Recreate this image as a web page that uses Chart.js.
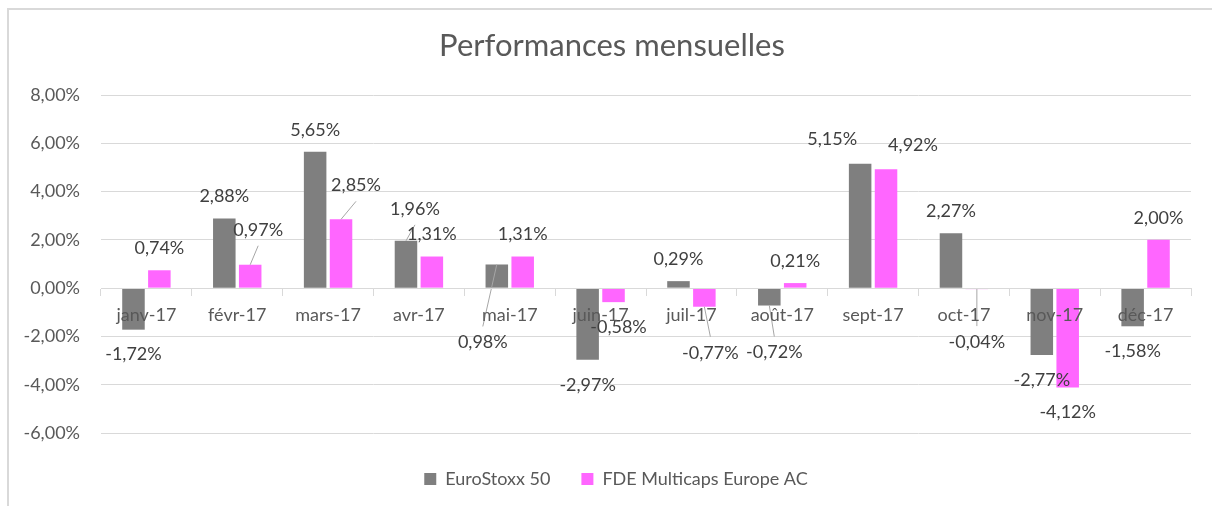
<!DOCTYPE html>
<html>
<head>
<meta charset="utf-8">
<script src="https://cdn.jsdelivr.net/npm/chart.js@4.4.1/dist/chart.umd.min.js"></script>
<style>
  html, body { margin: 0; padding: 0; background: #ffffff; }
  #wrap { position: relative; width: 1212px; height: 506px; }
  canvas { display: block; }
</style>
</head>
<body>
<div id="wrap"><canvas id="c" width="1212" height="506"></canvas></div>
<script>
// ---- data ----
const categories = ['janv-17', 'févr-17', 'mars-17', 'avr-17', 'mai-17', 'juin-17',
                    'juil-17', 'août-17', 'sept-17', 'oct-17', 'nov-17', 'déc-17'];
const euroStoxx = [-1.72, 2.88, 5.65, 1.96, 0.98, -2.97, 0.29, -0.72, 5.15, 2.27, -2.77, -1.58];
const fdeMulticaps = [0.74, 0.97, 2.85, 1.31, 1.31, -0.58, -0.77, 0.21, 4.92, -0.04, -4.12, 2.00];
const seriesNames = ['EuroStoxx 50', 'FDE Multicaps Europe AC'];
const yTicks = { min: -6, max: 8, step: 2 };
const chartTitle = 'Performances mensuelles';

// label placement tweaks (dx, dy, leader line) per series / category index
const labelNudges = [
  { 3: [9, -10, true], 4: [-14, 100, true], 7: [5, 22, true], 8: [-28, -3, false] },
  { 1: [8, -13, true], 2: [15, -12, true], 5: [5, 0, false], 6: [6, 21, true], 8: [27, -2, false], 9: [0, 28, true] }
];

const fmt = v => v.toFixed(2).replace('.', ',') + '%';
const FONT = 'Lato, "Open Sans", sans-serif';
const FS = 18;

const framePlugin = {
  id: 'frame',
  beforeDraw(chart) {
    const ctx = chart.ctx;
    ctx.save();
    ctx.fillStyle = '#d9d9d9';
    ctx.fillRect(7, 8, chart.width - 7, 2);
    ctx.fillRect(7, 8, 2, chart.height - 8);
    ctx.restore();
  }
};

const shiftPlugin = {
  id: 'centerShift',
  afterLayout(chart) {
    if (chart.titleBlock) { chart.titleBlock.left += 12.5; chart.titleBlock.right += 12.5; }
    if (chart.legend) { chart.legend.left += 16.5; chart.legend.right += 16.5; }
  }
};

const labelPlugin = {
  id: 'valueLabels',
  afterDatasetsDraw(chart) {
    const ctx = chart.ctx;
    ctx.save();
    ctx.font = FS + 'px ' + FONT;
    ctx.textAlign = 'center';
    ctx.textBaseline = 'middle';
    chart.data.datasets.forEach((ds, di) => {
      const meta = chart.getDatasetMeta(di);
      meta.data.forEach((bar, i) => {
        const v = ds.data[i];
        const n = labelNudges[di][i] || [0, 0, false];
        const cx = bar.x + n[0];
        const cy = (v >= 0 ? bar.y - 22 : bar.y + 25) + n[1];
        if (n[2]) {
          const ty = cy < bar.y ? cy + 16 : cy - 16;
          ctx.strokeStyle = '#a6a6a6';
          ctx.lineWidth = 1;
          ctx.beginPath();
          ctx.moveTo(bar.x, bar.y);
          ctx.lineTo(cx, ty);
          ctx.stroke();
        }
        ctx.fillStyle = '#404040';
        ctx.fillText(fmt(v), cx, cy);
      });
    });
    ctx.restore();
  }
};

new Chart(document.getElementById('c'), {
  type: 'bar',
  data: {
    labels: categories,
    datasets: [
      { label: seriesNames[0], data: euroStoxx, backgroundColor: '#7f7f7f',
        categoryPercentage: 0.57, barPercentage: 0.87 },
      { label: seriesNames[1], data: fdeMulticaps, backgroundColor: '#ff66ff',
        categoryPercentage: 0.57, barPercentage: 0.87 }
    ]
  },
  options: {
    responsive: false,
    animation: false,
    layout: { padding: { left: 8, right: 21, top: 0, bottom: 8 } },
    plugins: {
      title: {
        display: true, text: chartTitle, color: '#595959',
        font: { family: FONT, size: 31, weight: 'normal' },
        padding: { top: 27.4, bottom: 30.4 }
      },
      legend: {
        position: 'bottom',
        title: { display: true, text: ' ', font: { size: 5 }, padding: 0 },
        labels: {
          color: '#595959', boxWidth: 12, boxHeight: 12, padding: 31,
          font: { family: FONT, size: FS }
        }
      },
      tooltip: { enabled: false }
    },
    scales: {
      x: {
        position: { y: 0 },
        grid: { drawOnChartArea: false, drawTicks: true, tickLength: 7, color: '#d9d9d9', z: 1 },
        border: { display: true, color: '#d9d9d9', z: 1 },
        ticks: { color: '#595959', padding: 9, z: 1, font: { family: FONT, size: FS }, maxRotation: 0, autoSkip: false }
      },
      y: {
        min: yTicks.min, max: yTicks.max,
        grid: { color: '#d9d9d9', drawTicks: false },
        border: { display: false },
        ticks: { stepSize: yTicks.step, color: '#595959', padding: 21,
                 font: { family: FONT, size: FS }, callback: v => fmt(v) },
        afterFit: s => { s.width = 93; }
      }
    }
  },
  plugins: [framePlugin, shiftPlugin, labelPlugin]
});
</script>
</body>
</html>
